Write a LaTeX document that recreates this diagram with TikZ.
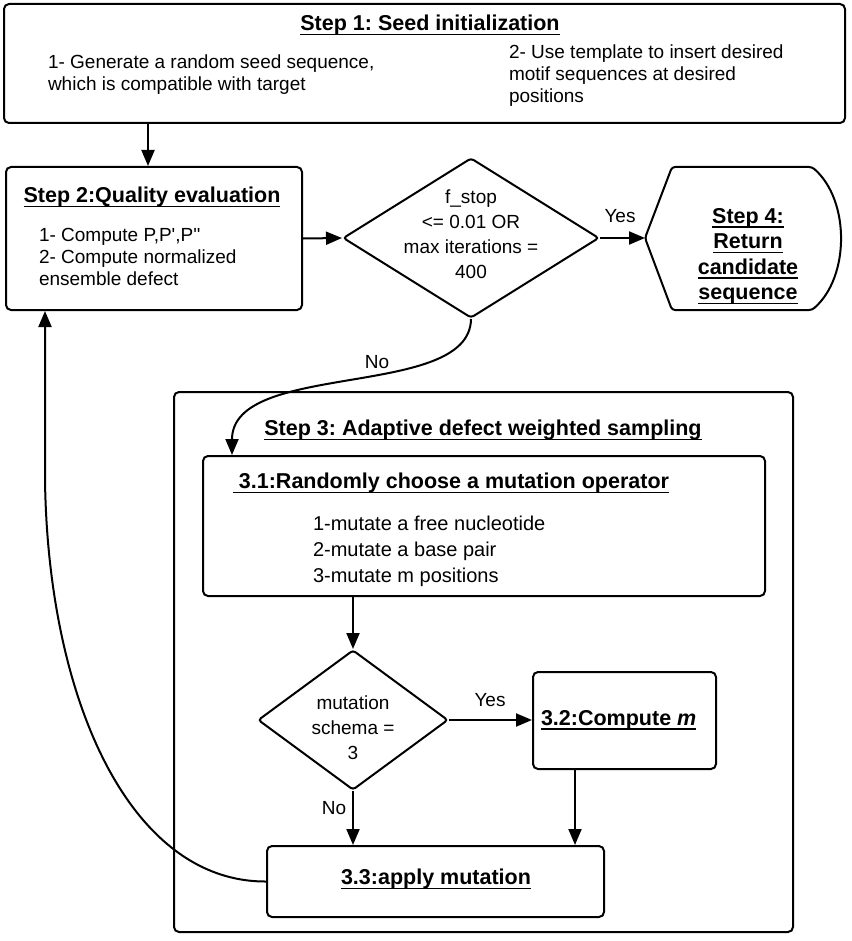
\documentclass[tikz,border=0pt]{standalone}
\usepackage{fontspec}
\setmainfont{Liberation Sans}
\usetikzlibrary{shapes.geometric,arrows.meta,calc}
\newcommand{\myul}[1]{\leavevmode\setbox0=\hbox{#1}\rlap{\rule[-4.5pt]{\wd0}{1.4pt}}\box0}
\frenchspacing
\begin{document}
\begin{tikzpicture}[x=1pt,y=-1pt, line width=2pt,
 box/.style={draw, rounded corners=5pt, inner sep=0pt},
 dia/.style={draw, diamond, inner sep=0pt, rounded corners=3pt},
 arr/.style={-{Triangle[length=16pt,width=13pt]}},
 tx/.style={font=\fontsize{19}{22}\selectfont, align=left, inner sep=0pt},
 dtx/.style={font=\fontsize{19}{25}\selectfont, align=center, inner sep=0pt},
 ttl/.style={font=\fontsize{21.5}{25}\selectfont\bfseries, align=center, inner sep=0pt},
]
\fill[white] (0,0) rectangle (851,941);
\useasboundingbox (0,0) rectangle (851,941);

% Step 1
\node[box, minimum width=841pt, minimum height=119pt] (s1) at (424.5,63.5) {};
\node[ttl] (s1t) at (430,25) {\myul{Step 1: Seed initialization}};
\node[tx, anchor=west] (s1a) at (47,75) {1- Generate a random seed sequence,\\which is compatible with target};
\node[tx, anchor=west] (s1b) at (508,76) {2- Use template to insert desired\\motif sequences at desired\\positions};

% Step 2
\node[box, minimum width=296pt, minimum height=143pt] (s2) at (154,238.5) {};
\node[ttl] (s2t) at (152,197) {\myul{Step 2:Quality evaluation}};
\node[tx, anchor=west] (s2a) at (38,257) {1- Compute P,P\textquotesingle,P\textquotesingle\textquotesingle\\2- Compute normalized\\ensemble defect};

% Decision 1
\node[dia, minimum width=256pt, minimum height=160pt] (d1) at (471,238) {};
\node[dtx] (d1t) at (471,234) {f\_stop\\<= 0.01 OR\\max iterations =\\400};

% Step 4
\coordinate (s4w) at (645,238);
\draw[rounded corners=3pt] (s4w) -- (672,167) -- (812,167) .. controls (850,200) and (850,277) .. (812,310) -- (672,310) -- cycle;
\node[ttl, font=\fontsize{21.5}{25.5}\selectfont\bfseries] (s4t) at (748,256) {\myul{Step 4:}\\\myul{Return}\\\myul{candidate}\\\myul{sequence}};

% Step 3 outer
\node[box, minimum width=619pt, minimum height=540pt] (s3) at (483.5,662) {};
\node[ttl] (s3t) at (483,430) {\myul{Step 3: Adaptive defect weighted sampling}};

% 3.1
\node[box, minimum width=562pt, minimum height=140pt] (s31) at (484,526) {};
\node[ttl] (s31t) at (451,483) {\myul{\ 3.1:Randomly choose a mutation operator}};
\node[tx, anchor=west, font=\fontsize{20}{26}\selectfont] (s31a) at (312,551) {1-mutate a free nucleotide\\2-mutate a base pair\\3-mutate m positions};

% Decision 2
\node[dia, minimum width=190pt, minimum height=140pt] (d2) at (353,720) {};
\node[dtx] (d2t) at (353,728) {mutation\\schema =\\3};

% 3.2
\node[box, minimum width=183pt, minimum height=97pt] (s32) at (624.5,720.5) {};
\node[ttl, anchor=west] (s32t) at (540,720) {\myul{3.2:Compute \textit{m}}};

% 3.3
\node[box, minimum width=337pt, minimum height=71pt] (s33) at (435.5,881.5) {};
\node[ttl] (s33t) at (436,879) {\myul{3.3:apply mutation}};

% labels
\node[tx] (l1) at (620,216) {Yes};
\node[tx] (l2) at (377,362) {No};
\node[tx] (l3) at (490,700) {Yes};
\node[tx] (l4) at (334,808) {No};

% connectors
\draw[arr] (148,0 |- s1.south) -- (148,0 |- s2.north);
\draw[arr] (s2.east) -- (d1.west);
\draw[arr] (d1.east) -- (s4w);
\draw[arr] (d1.south) .. controls (470,400) and (232,360) .. (232,0 |- s31.north);
\draw[arr] (d2.north |- s31.south) -- (d2.north);
\draw[arr] (d2.east) -- (d2.east -| s32.west);
\draw[arr] (575,0 |- s32.south) -- (575,0 |- s33.north);
\draw[arr] (d2.south) -- (d2.south |- s33.north);
\draw[arr] (s33.west) .. controls (130,882) and (48,700) .. (45,480) -- (45,0 |- s2.south);
\end{tikzpicture}
\end{document}
